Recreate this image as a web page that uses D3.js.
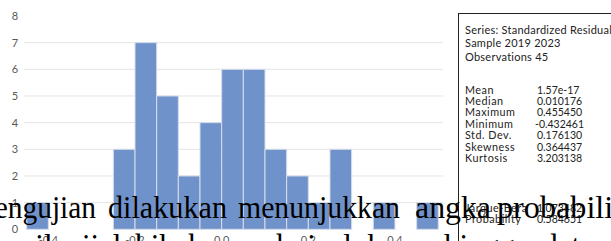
<!DOCTYPE html>
<html>
<head>
<meta charset="utf-8">
<script src="https://cdn.jsdelivr.net/npm/d3@7/dist/d3.min.js"></script>
<style>
  body { margin: 0; background: #fff; }
  svg { display: block; }
</style>
</head>
<body>
<div id="chart"></div>
<script>
// histogram bins (lower edge) and counts
var binStart = [-0.45, -0.40, -0.35, -0.30, -0.25, -0.20, -0.15, -0.10, -0.05, 0.00,
                0.05, 0.10, 0.15, 0.20, 0.25, 0.30, 0.35, 0.40, 0.45];
var counts = [1, 0, 0, 0, 3, 7, 5, 2, 4, 6, 6, 3, 2, 1, 3, 0, 1, 0, 1];
var binWidth = 0.05;

var xTicks = [-0.4, -0.2, 0.0, 0.2, 0.4];
var xTickLabels = ["-0.4", "-0.2", "0.0", "0.2", "0.4"];
var yTicks = [0, 1, 2, 3, 4, 5, 6, 7, 8];
var gridTicks = [1, 2, 3, 4, 5, 6, 7];

var headerLines = ["Series: Standardized Residuals", "Sample 2019 2023", "Observations 45"];
var statNames = ["Mean", "Median", "Maximum", "Minimum", "Std. Dev.", "Skewness", "Kurtosis"];
var statValues = ["1.57e-17", "0.010176", "0.455450", "-0.432461", "0.176130", "0.364437", "3.203138"];
var testNames = ["Jarque-Bera", "Probability"];
var testValues = ["1.073482", "0.584651"];

// document text lying over the picture
var line1 = ["pengujian", "dilakukan", "menunjukkan", "angka", "probabilitas"];
var line1X = [-20, 108, 238, 415, 497];
var line1W = [116, 119, 162, 76, 152];
var line2 = "hasil uji lebih besar dari alpha, sehingga data residual berdistribusi normal";

var W = 611, H = 241;

var svg = d3.select("#chart").append("svg")
    .attr("width", W)
    .attr("height", H);

var x = d3.scaleLinear().domain([-0.45, 0.50]).range([26.7, 438.3]);
var y = d3.scaleLinear().domain([0, 8]).range([229.3, 16]);

// gridlines
svg.append("g").selectAll("line")
    .data(gridTicks)
    .enter().append("line")
    .attr("x1", 24)
    .attr("x2", 443)
    .attr("y1", function (d) { return y(d); })
    .attr("y2", function (d) { return y(d); })
    .style("stroke", "#e4e4e4")
    .style("stroke-width", 1);

// y labels
svg.append("g").selectAll("text")
    .data(yTicks)
    .enter().append("text")
    .attr("x", 15)
    .attr("y", function (d) { return y(d) + 4; })
    .attr("text-anchor", "middle")
    .style("font-family", "Lato, 'Open Sans', sans-serif")
    .style("font-size", "11px")
    .style("fill", "#595959")
    .text(function (d) { return d; });

// bars
svg.append("g").selectAll("rect")
    .data(binStart.map(function (b, i) { return { lo: b, n: counts[i] }; })
        .filter(function (d) { return d.n > 0; }))
    .enter().append("rect")
    .attr("x", function (d) { return x(d.lo); })
    .attr("y", function (d) { return y(d.n); })
    .attr("width", function (d) { return x(d.lo + binWidth) - x(d.lo); })
    .attr("height", function (d) { return y(0) - y(d.n); })
    .style("fill", "#7092ca")
    .style("stroke", "#d6dcea")
    .style("stroke-width", 1);

// x labels
svg.append("g").selectAll("text")
    .data(xTicks)
    .enter().append("text")
    .attr("x", function (d) { return x(d); })
    .attr("y", 244)
    .attr("text-anchor", "middle")
    .style("font-family", "Lato, 'Open Sans', sans-serif")
    .style("font-size", "11px")
    .style("fill", "#595959")
    .text(function (d, i) { return xTickLabels[i]; });

// stats box
var box = svg.append("g");
box.append("rect")
    .attr("x", 458.5)
    .attr("y", 13.5)
    .attr("width", 200)
    .attr("height", 260)
    .style("fill", "#fff")
    .style("stroke", "#222")
    .style("stroke-width", 1);

var boxFont = "Lato, 'Open Sans', sans-serif";

box.selectAll("text.hdr")
    .data(headerLines)
    .enter().append("text")
    .attr("class", "hdr")
    .attr("x", 465)
    .attr("y", function (d, i) { return 33.5 + i * 13.5; })
    .style("font-family", boxFont)
    .style("font-size", "11px")
    .style("letter-spacing", "0.25px")
    .style("fill", "#222")
    .text(function (d) { return d; });

box.selectAll("text.sn")
    .data(statNames)
    .enter().append("text")
    .attr("class", "sn")
    .attr("x", 465)
    .attr("y", function (d, i) { return 93.5 + i * 11.4; })
    .style("font-family", boxFont)
    .style("font-size", "10.8px")
    .style("letter-spacing", "0.5px")
    .style("fill", "#222")
    .text(function (d) { return d; });

box.selectAll("text.sv")
    .data(statValues)
    .enter().append("text")
    .attr("class", "sv")
    .attr("x", function (d) { return d.charAt(0) == "-" ? 535 : 537; })
    .attr("y", function (d, i) { return 93.5 + i * 11.4; })
    .style("font-family", boxFont)
    .style("font-size", "10.5px")
    .style("fill", "#222")
    .text(function (d) { return d; });

box.selectAll("text.tn")
    .data(testNames)
    .enter().append("text")
    .attr("class", "tn")
    .attr("x", 465)
    .attr("y", function (d, i) { return 211.5 + i * 11.5; })
    .style("font-family", boxFont)
    .style("font-size", "10.8px")
    .style("letter-spacing", "0.5px")
    .style("fill", "#222")
    .text(function (d) { return d; });

box.selectAll("text.tv")
    .data(testValues)
    .enter().append("text")
    .attr("class", "tv")
    .attr("x", 537)
    .attr("y", function (d, i) { return 211.5 + i * 11.5; })
    .style("font-family", boxFont)
    .style("font-size", "10.5px")
    .style("fill", "#222")
    .text(function (d) { return d; });

// overlaid document text
var doc = svg.append("g")
    .style("font-family", "'Liberation Serif', 'Times New Roman', serif")
    .style("fill", "#000");

doc.selectAll("text.w")
    .data(line1)
    .enter().append("text")
    .attr("class", "w")
    .attr("x", function (d, i) { return line1X[i]; })
    .attr("y", 218)
    .attr("textLength", function (d, i) { return line1W[i]; })
    .attr("lengthAdjust", "spacingAndGlyphs")
    .style("font-size", "31px")
    .text(function (d) { return d; });

doc.append("text")
    .attr("x", -6)
    .attr("y", 256)
    .style("font-size", "31px")
    .style("word-spacing", "6px")
    .text(line2);
</script>
</body>
</html>
